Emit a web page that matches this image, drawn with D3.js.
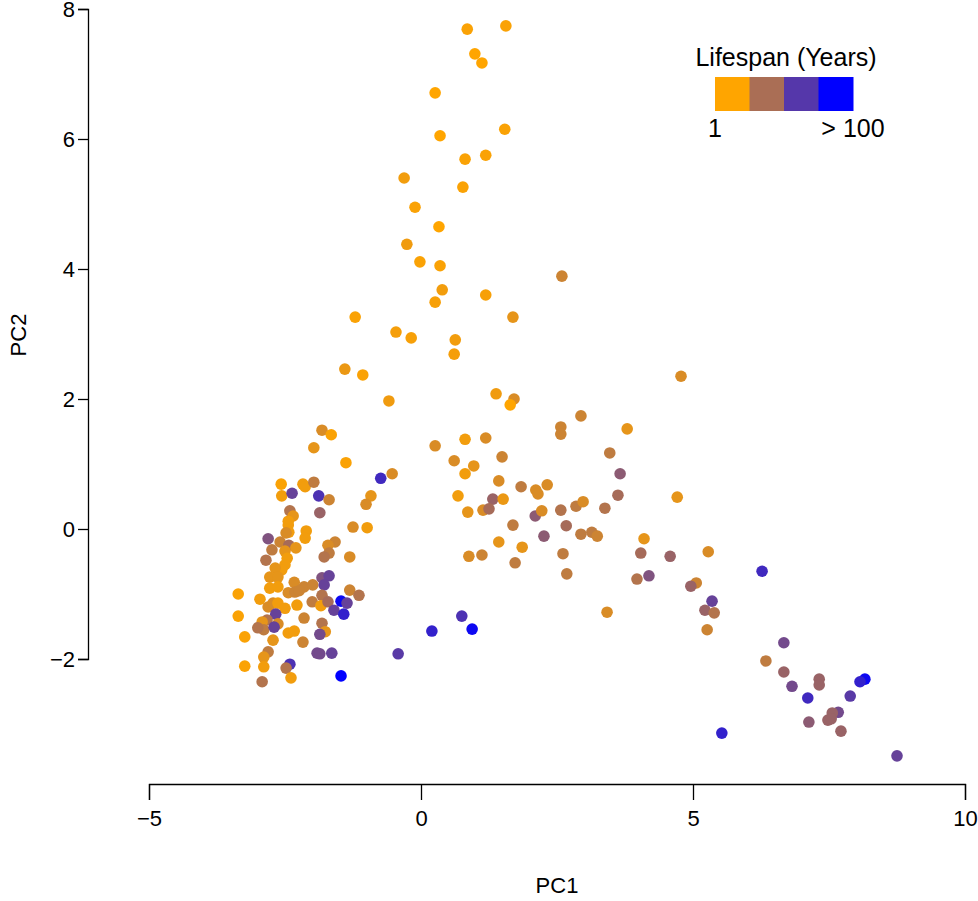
<!DOCTYPE html>
<html>
<head>
<meta charset="utf-8">
<script src="https://cdn.jsdelivr.net/npm/d3@7"></script>
<style>
html,body{margin:0;padding:0;background:#fff;}
svg text{font-family:"Liberation Sans",Arial,Helvetica,sans-serif;fill:#000;}
</style>
</head>
<body>
<svg id="chart" width="978" height="901"></svg>
<script>
// PC scores per species
const pc1 = [0.85,1.56,0.99,1.12,0.26,1.54,0.35,0.81,1.19,-0.31,0.77,-0.11,0.33,-0.26,-0.02,0.35,0.39,0.26,2.59,1.19,1.69,-1.21,-0.46,-0.18,0.63,0.61,-1.40,-1.07,-0.59,1.38,1.71,1.64,4.78,2.94,2.57,2.57,3.79,-1.82,-1.65,0.81,1.19,0.26,0.61,0.97,1.49,0.81,1.43,1.84,2.11,2.15,2.32,3.47,3.66,3.62,0.68,1.32,1.51,0.86,1.14,1.25,2.10,2.22,2.57,2.85,2.98,3.38,1.69,2.67,2.94,3.14,3.24,2.26,1.43,1.86,0.88,1.12,1.73,2.61,2.68,3.42,0.75,0.20,0.94,4.71,4.10,4.04,4.58,5.28,3.97,4.19,6.27,5.06,4.96,5.35,5.22,5.39,5.26,6.67,6.34,6.67,7.32,7.32,6.82,7.11,8.16,8.07,7.89,7.67,7.56,7.48,7.54,7.13,7.72,5.53,8.75,
-1.97,-1.38,-0.74,-0.53,-2.57,-2.17,-2.13,-1.97,-2.56,-2.37,-1.88,-1.69,-0.92,-1.01,-2.41,-2.35,-1.86,-2.44,-2.44,-2.43,-2.48,-1.25,-0.99,-2.81,-2.59,-2.43,-2.11,-2.13,-2.74,-2.50,-2.30,-1.58,-1.71,-1.69,-1.78,-1.31,-2.85,-2.46,-2.50,-2.56,-2.68,-2.78,-2.63,-2.33,-2.15,-1.99,-1.82,-1.69,-1.78,-3.36,-3.36,-2.96,-2.78,-2.63,-2.44,-2.32,-2.24,-2.81,-2.72,-2.63,-2.50,-2.28,-2.00,-1.82,-1.84,-1.71,-1.60,-1.47,-1.36,-1.42,-1.31,-1.14,-2.67,-2.83,-2.92,-2.89,-3.00,-2.63,-2.70,-2.15,-2.44,-2.33,-1.82,-1.76,-1.86,-2.72,-2.17,-3.24,-2.81,-2.89,-1.91,-1.86,-1.64,-3.24,-2.89,-2.41,-2.48,-2.39,-2.92,-1.47,-0.42];

const pc2 = [7.69,7.74,7.31,7.17,6.71,6.15,6.05,5.69,5.75,5.40,5.26,4.95,4.65,4.38,4.11,4.05,3.68,3.49,3.89,3.60,3.26,3.26,3.03,2.94,2.91,2.69,2.46,2.37,1.97,2.08,2.00,1.91,2.35,1.74,1.57,1.46,1.54,1.52,1.45,1.38,1.40,1.28,1.05,0.97,1.11,0.85,0.74,0.65,0.60,0.54,0.68,1.17,0.85,0.52,0.51,0.46,0.46,0.26,0.29,0.31,0.20,0.28,0.29,0.35,0.42,0.32,0.06,0.05,-0.08,-0.05,-0.11,-0.11,-0.20,-0.28,-0.42,-0.40,-0.52,-0.38,-0.69,-1.28,-1.34,-1.57,-1.54,0.49,-0.15,-0.37,-0.42,-0.35,-0.77,-0.72,-0.65,-0.83,-0.88,-1.11,-1.25,-1.29,-1.55,-1.75,-2.03,-2.20,-2.31,-2.40,-2.42,-2.60,-2.31,-2.35,-2.57,-2.82,-2.83,-2.94,-2.92,-2.97,-3.11,-3.14,-3.49,
1.25,1.02,0.78,0.85,0.69,0.69,0.65,0.72,0.51,0.55,0.51,0.45,0.51,0.38,0.28,0.20,0.25,0.12,0.06,-0.05,-0.06,0.03,0.02,-0.15,-0.20,-0.25,-0.03,-0.14,-0.32,-0.34,-0.29,-0.20,-0.25,-0.37,-0.43,-0.43,-0.48,-0.45,-0.55,-0.63,-0.60,-0.74,-0.74,-0.82,-0.89,-0.86,-0.75,-0.72,-0.86,-1.00,-1.34,-1.08,-0.91,-0.89,-0.98,-0.97,-0.95,-1.20,-1.14,-1.14,-1.22,-1.17,-1.12,-1.02,-1.18,-1.12,-1.25,-1.11,-1.14,-1.31,-0.94,-1.02,-1.31,-1.40,-1.43,-1.55,-1.52,-1.46,-1.51,-1.37,-1.60,-1.57,-1.45,-1.58,-1.62,-1.71,-1.74,-1.66,-1.89,-1.97,-1.91,-1.92,-1.91,-2.11,-2.12,-2.08,-2.14,-2.29,-2.35,-2.26,-1.92];

// Relative lifespan position on the colour ramp (0 = 1 year, 1 = >100 years)
const lifespan = [0.02,0.02,0,0,0,0.02,0,0.02,0.02,0.05,
0.02,0.02,0,0.06,0.02,0.02,0.05,0.03,0.2,0.03,
0.1,0.02,0.04,0.03,0.05,0.04,0.08,0.02,0.06,0.06,
0.15,0,0.15,0.2,0.2,0.2,0.1,0.15,0.02,0.05,
0.15,0.15,0.15,0.1,0.2,0.05,0.15,0.25,0.15,0.15,
0.15,0.25,0.45,0.35,0.05,0.4,0.08,0.1,0.15,0.35,
0.45,0.15,0.3,0.25,0.15,0.3,0.25,0.35,0.25,0.25,
0.2,0.45,0.1,0.1,0.15,0.2,0.25,0.25,0.25,0.15,
0.7,0.8,0.95,0.1,0.1,0.35,0.4,0.15,0.3,0.5,
0.75,0.2,0.4,0.6,0.4,0.3,0.2,0.55,0.25,0.4,
0.4,0.4,0.55,0.75,0.95,0.8,0.65,0.55,0.4,0.4,0.4,0.45,0.4,0.8,0.6,
0.1,0.02,0.75,0.15,0.02,0.05,0.05,0.25,0.05,0.6,
0.7,0.2,0.1,0.15,0.3,0.1,0.4,0.05,0.05,0.05,
0.15,0.15,0.05,0.5,0.2,0.35,0.05,0.05,0.25,0.1,
0.1,0.2,0.15,0.25,0.3,0.15,0.3,0.05,0.05,0.05,
0.1,0.1,0.1,0.15,0.2,0.2,0.5,0.6,0.6,0.02,
0.02,0.05,0.05,0.05,0.15,0.2,0.2,0.15,0.15,0.05,
0.05,0.05,0.25,0.3,0.05,0.35,0.6,0.95,0.6,0.8,
0.2,0.3,0.6,0.3,0.1,0.25,0.3,0.15,0.6,0.2,
0.05,0.05,0.3,0.1,0.55,0.1,0.2,0.02,0.25,0.1,
0.55,0.55,0.6,0.02,0.05,0.7,0.3,0.05,0.3,1.0,0.65];

const xTicks = [-5, 0, 5, 10];
const yTicks = [-2, 0, 2, 4, 6, 8];
const legendSteps = [0, 1/3, 2/3, 1];
const legendTitle = "Lifespan (Years)";
const legendLow = "1";
const legendHigh = "> 100";

const svg = d3.select("#chart");
const x = d3.scaleLinear().domain([-5, 10]).range([149, 965]);
const y = d3.scaleLinear().domain([-2, 8]).range([659, 9]);
const color = d3.scaleLinear().domain([0, 1]).range(["#FFA500", "#0000FF"]).interpolate(d3.interpolateRgb);

const n = Math.min(pc1.length, pc2.length, lifespan.length);
const pts = d3.range(n).map(i => ({x: pc1[i], y: pc2[i], t: lifespan[i]}));

// points
svg.append("g").selectAll("circle").data(pts).join("circle")
  .attr("cx", d => x(d.x))
  .attr("cy", d => y(d.y))
  .attr("r", 5.8)
  .attr("fill", d => color(d.t));

const fmt = d => d3.format("")(d).replace("-", "\u2212");

// x axis
const xAxis = svg.append("g").attr("transform", "translate(0,784)")
  .call(d3.axisBottom(x).tickValues(xTicks).tickSize(16).tickPadding(10).tickFormat(fmt));
xAxis.select(".domain").attr("stroke", "#000").attr("stroke-width", 1.3);
xAxis.selectAll(".tick line").attr("stroke", "#000").attr("stroke-width", 1.3);
xAxis.selectAll("text").attr("font-size", 22).attr("fill", "#000");

// y axis
const yAxis = svg.append("g").attr("transform", "translate(88,0)")
  .call(d3.axisLeft(y).tickValues(yTicks).tickSize(10).tickPadding(3).tickFormat(fmt));
yAxis.select(".domain").attr("stroke", "#000").attr("stroke-width", 1.3);
yAxis.selectAll(".tick line").attr("stroke", "#000").attr("stroke-width", 1.3);
yAxis.selectAll("text").attr("font-size", 22).attr("fill", "#000");

// axis titles
svg.append("text").attr("x", 557).attr("y", 893).attr("text-anchor", "middle").attr("font-size", 22).text("PC1");
svg.append("text").attr("transform", "translate(26,335) rotate(-90)").attr("text-anchor", "middle").attr("font-size", 22).text("PC2");

// legend
const lx = d3.scaleLinear().domain([0, legendSteps.length]).range([715, 853]);
const lg = svg.append("g");
lg.selectAll("rect").data(legendSteps).join("rect")
  .attr("x", (d, i) => lx(i))
  .attr("y", 77)
  .attr("width", lx(1) - lx(0) + 0.5)
  .attr("height", 34)
  .attr("fill", d => color(d));
lg.append("text").attr("x", 786).attr("y", 66).attr("text-anchor", "middle").attr("font-size", 25).text(legendTitle);
lg.append("text").attr("x", lx(0)).attr("y", 137).attr("text-anchor", "middle").attr("font-size", 25).text(legendLow);
lg.append("text").attr("x", lx(legendSteps.length)).attr("y", 137).attr("text-anchor", "middle").attr("font-size", 25).text(legendHigh);
</script>
</body>
</html>
